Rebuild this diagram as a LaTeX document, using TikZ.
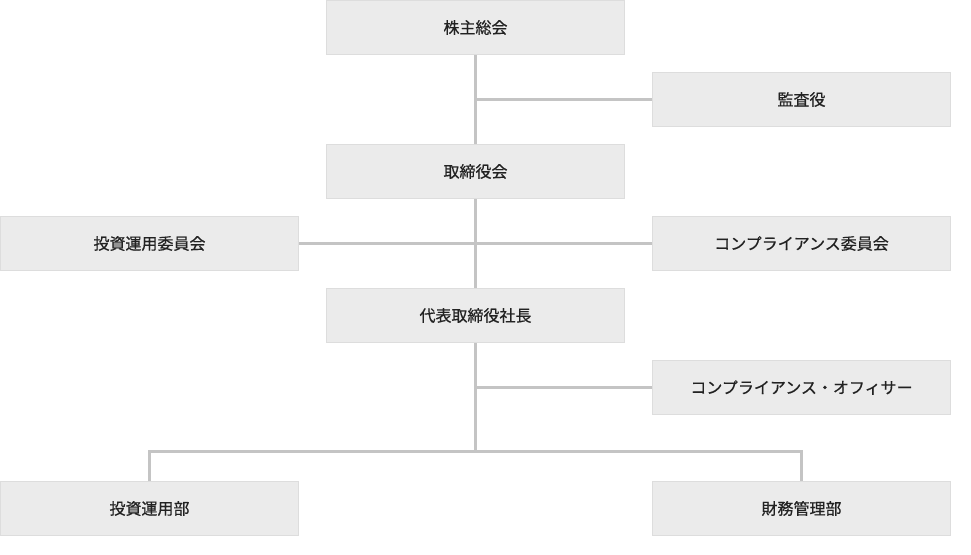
\documentclass[tikz,border=0pt]{standalone}
\usepackage{fontspec}
\newfontfamily\jpfont[FakeBold=0.6]{Noto Sans CJK JP}
\definecolor{boxFill}{HTML}{EBEBEB}
\definecolor{boxEdge}{HTML}{DDDDDD}
\definecolor{lineGray}{HTML}{C4C4C4}
\definecolor{textDark}{HTML}{222222}
\usetikzlibrary{positioning}

\begin{document}
\begin{tikzpicture}[x=1pt, y=-1pt,
    orgbox/.style={draw=boxEdge, line width=1pt, fill=boxFill, minimum width=298pt, minimum height=54pt, inner sep=0pt, text=textDark, font=\jpfont\fontsize{16}{19}\selectfont},
    link/.style={draw=lineGray, line width=3pt}]
    \useasboundingbox (0,0) rectangle (971,554);

    % Boxes
    \node[orgbox] (meeting) at (475.5,27.5) {株主総会};
    \node[orgbox] (auditor) at (801.5,99.5) {監査役};
    \node[orgbox] (board) at (475.5,171.5) {取締役会};
    \node[orgbox] (invcom) at (149.5,243.5) {投資運用委員会};
    \node[orgbox] (cmpcom) at (801.5,243.5) {コンプライアンス委員会};
    \node[orgbox] (president) at (475.5,315.5) {代表取締役社長};
    \node[orgbox] (officer) at (801.5,387.5) {コンプライアンス・オフィサー};
    \node[orgbox] (invdept) at (149.5,508.5) {投資運用部};
    \node[orgbox] (findept) at (801.5,508.5) {財務管理部};

    % Trunk
    \coordinate (fork) at (475.5,451);
    \draw[link] (meeting) -- (board);
    \draw[link] (board) -- (president);
    \draw[link] (president) -- (fork);

    % Branches
    \draw[link] (auditor.west) -- (auditor.west -| meeting.south);
    \draw[link] (invcom.east) -- (cmpcom.west);
    \draw[link] (officer.west) -- (officer.west -| president.south);
    \draw[link] (invdept.north) |- (fork) -| (findept.north);
\end{tikzpicture}
\end{document}
